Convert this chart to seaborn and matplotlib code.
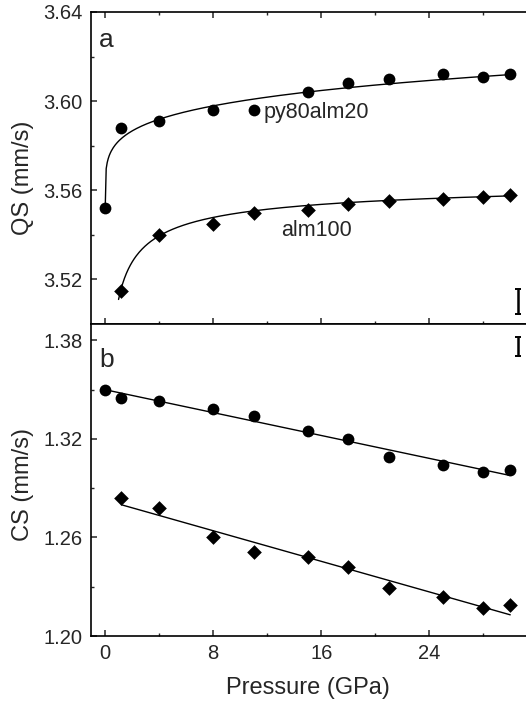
import numpy as np
import pandas as pd
import matplotlib
matplotlib.use("Agg")
import matplotlib.pyplot as plt
from matplotlib.ticker import MultipleLocator, FixedLocator
import seaborn as sns

# Pressure points (GPa)
pressure_py = [0.0, 1.2, 4.0, 8.0, 11.0, 15.0, 18.0, 21.0, 25.0, 28.0, 30.0]
pressure_alm = [1.2, 4.0, 8.0, 11.0, 15.0, 18.0, 21.0, 25.0, 28.0, 30.0]

# Quadrupole splitting (mm/s)
qs_py80alm20 = [3.552, 3.588, 3.591, 3.596, 3.596, 3.604, 3.608, 3.610, 3.612, 3.611, 3.612]
qs_alm100 = [3.515, 3.540, 3.545, 3.550, 3.551, 3.554, 3.555, 3.556, 3.557, 3.558]

# Centre shift (mm/s)
cs_py80alm20 = [1.350, 1.345, 1.343, 1.338, 1.334, 1.325, 1.320, 1.309, 1.304, 1.300, 1.301]
cs_alm100 = [1.284, 1.278, 1.260, 1.251, 1.248, 1.242, 1.229, 1.224, 1.217, 1.219]

# Fit parameters for the QS curves
# py80alm20: QS = a + b * P**c
py_fit_a, py_fit_b, py_fit_c = 3.5515, 0.0306, 0.20
# alm100: QS = a - b / sqrt(P)
alm_fit_a, alm_fit_b = 3.5678, 0.0565
alm_fit_start = 0.99

# Typical uncertainty bars
err_pos = 30.6
qs_err_center, qs_err_half = 3.5102, 0.0056
cs_err_center, cs_err_half = 1.3763, 0.006

# Axis ticks
x_major = [0, 8, 16, 24]
x_minor = [4, 12, 20, 28]
qs_ticks = [3.52, 3.56, 3.60, 3.64]
cs_ticks = [1.20, 1.26, 1.32, 1.38]

sns.set_style("ticks")
plt.rcParams["font.family"] = ["Liberation Sans", "DejaVu Sans"]
plt.rcParams["axes.linewidth"] = 1.2
plt.rcParams["xtick.direction"] = "in"
plt.rcParams["ytick.direction"] = "in"

W, H = 526, 704
fig = plt.figure(figsize=(W / 100, H / 100), dpi=100)
left_px, axw_px = 91, 453
ax_top = fig.add_axes([left_px / W, (H - 324) / H, axw_px / W, 312 / H])
ax_bot = fig.add_axes([left_px / W, (H - 636) / H, axw_px / W, 312 / H])

black = "black"
circle_size, diamond_size = 72, 56

# ---- panel a: quadrupole splitting ----
p_py_curve = np.linspace(0.0, max(pressure_py), 400)
qs_py_curve = py_fit_a + py_fit_b * p_py_curve ** py_fit_c
p_alm_curve = np.linspace(alm_fit_start, max(pressure_alm), 400)
qs_alm_curve = alm_fit_a - alm_fit_b / np.sqrt(p_alm_curve)

sns.lineplot(x=p_py_curve, y=qs_py_curve, color=black, lw=1.0, ax=ax_top)
sns.lineplot(x=p_alm_curve, y=qs_alm_curve, color=black, lw=1.0, ax=ax_top)
sns.scatterplot(x=pressure_py, y=qs_py80alm20, marker="o", s=circle_size, color=black,
                linewidth=0, ax=ax_top, zorder=3)
sns.scatterplot(x=pressure_alm, y=qs_alm100, marker="D", s=diamond_size, color=black,
                linewidth=0, ax=ax_top, zorder=3)
ax_top.errorbar([err_pos], [qs_err_center], yerr=[qs_err_half], fmt="none",
                ecolor=black, elinewidth=1.8, capsize=2.2, capthick=1.4)

ax_top.text(11.7, 3.595, "py80alm20", fontsize=15.5, va="center", ha="left")
ax_top.text(13.0, 3.542, "alm100", fontsize=15.5, va="center", ha="left")
ax_top.text(-0.45, 3.6243, "a", fontsize=19, va="baseline", ha="left")

ax_top.set_ylim(3.50, 3.64)
ax_top.set_yticks(qs_ticks)
ax_top.set_yticklabels([f"{v:.2f}" for v in qs_ticks])
ax_top.yaxis.set_minor_locator(MultipleLocator(0.02))
ax_top.set_ylabel("QS (mm/s)", fontsize=17)
ax_top.tick_params(axis="x", which="both", top=True, labelbottom=False)

# ---- panel b: centre shift ----
sns.regplot(x=np.array(pressure_py), y=np.array(cs_py80alm20), ci=None, scatter=False,
            truncate=True, line_kws=dict(color=black, lw=1.0), ax=ax_bot)
sns.regplot(x=np.array(pressure_alm), y=np.array(cs_alm100), ci=None, scatter=False,
            truncate=True, line_kws=dict(color=black, lw=1.0), ax=ax_bot)
sns.scatterplot(x=pressure_py, y=cs_py80alm20, marker="o", s=circle_size, color=black,
                linewidth=0, ax=ax_bot, zorder=3)
sns.scatterplot(x=pressure_alm, y=cs_alm100, marker="D", s=diamond_size, color=black,
                linewidth=0, ax=ax_bot, zorder=3)
ax_bot.errorbar([err_pos], [cs_err_center], yerr=[cs_err_half], fmt="none",
                ecolor=black, elinewidth=1.8, capsize=2.2, capthick=1.4)
ax_bot.text(-0.45, 1.3641, "b", fontsize=19, va="baseline", ha="left")

ax_bot.set_ylim(1.20, 1.39)
ax_bot.set_yticks(cs_ticks)
ax_bot.set_yticklabels([f"{v:.2f}" for v in cs_ticks])
ax_bot.yaxis.set_minor_locator(MultipleLocator(0.03))
ax_bot.set_ylabel("CS (mm/s)", fontsize=17)
ax_bot.set_xlabel("Pressure (GPa)", fontsize=17)
ax_bot.tick_params(axis="x", which="both", top=False)

for ax in (ax_top, ax_bot):
    ax.set_xlim(-1.05, 32.5)
    ax.xaxis.set_major_locator(FixedLocator(x_major))
    ax.xaxis.set_minor_locator(FixedLocator(x_minor))
    ax.tick_params(which="major", length=4, width=1.1, labelsize=14.5, pad=6)
    ax.tick_params(which="minor", length=2.2, width=1.0)
    ax.tick_params(axis="y", which="both", right=False)
    for s in ax.spines.values():
        s.set_visible(True)
        s.set_color(black)

ax_top.yaxis.set_label_coords(-68 / axw_px, 0.468)
ax_bot.yaxis.set_label_coords(-68 / axw_px, 0.484)
ax_bot.xaxis.set_label_coords((307.5 - left_px) / axw_px, -52 / 312)
ax_bot.xaxis.label.set_va("center")
ax_top.yaxis.label.set_va("center")
ax_bot.yaxis.label.set_va("center")

fig.savefig("out.png", dpi=100)
